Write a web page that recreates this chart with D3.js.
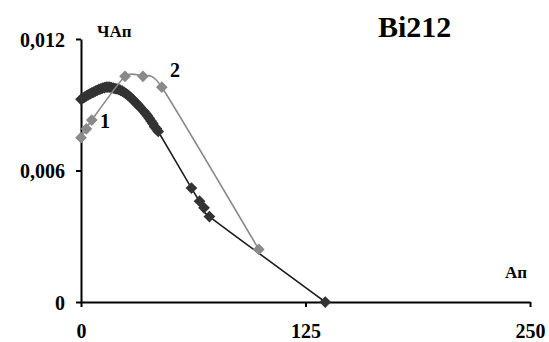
<!DOCTYPE html>
<html>
<head>
<meta charset="utf-8">
<script src="https://cdn.jsdelivr.net/npm/d3@7"></script>
<style>
  body { margin: 0; background: #fff; }
  svg text { font-family: 'Liberation Serif', 'Times New Roman', Times, 'DejaVu Serif', serif !important; font-weight: bold; }
</style>
</head>
<body>
<svg id="chart"></svg>
<script>
const svgWidth = 549, svgHeight = 342;

// series 1 (dark)
const s1x = [0,1,2,3,4,5,6,7,8,9,10,11,12,13,14,15,16,17,18,19,20,21,22,23,24,25,26,27,28,29,30,31,32,33,35,36,37,38,39,40,41,42,43,61.5,66,68.5,71.5,136];
const s1y = [0.00925,0.0093,0.00935,0.0094,0.00945,0.0095,0.00954,0.00958,0.00962,0.00966,0.0097,0.00973,0.00976,0.00978,0.0098,0.0098,0.0098,0.00978,0.00976,0.00974,0.00972,0.0097,0.00966,0.00962,0.00957,0.00951,0.00945,0.00938,0.0093,0.00922,0.00914,0.00905,0.00897,0.00888,0.0087,0.0086,0.0085,0.00838,0.00826,0.00814,0.008,0.0079,0.00778,0.0052,0.0046,0.0043,0.0039,0];

// series 2 (gray)
const s2x = [0,3,6,24.5,34.5,45,99];
const s2y = [0.0075,0.0079,0.0083,0.0103,0.0103,0.0098,0.0024];

const xTicks = [0,125,250];
const xTickLabels = ["0","125","250"];
const yTicks = [0,0.006,0.012];
const yTickLabels = ["0","0,006","0,012"];

const svg = d3.select("#chart")
    .attr("width", svgWidth)
    .attr("height", svgHeight);

const x = d3.scaleLinear().domain([0,250]).range([81,530]);
const y = d3.scaleLinear().domain([0,0.012]).range([302,39]);

// axes
const xAxis = svg.append("g")
    .attr("transform", `translate(0,${y(0)})`)
    .call(d3.axisBottom(x).tickValues(xTicks).tickSize(5).tickSizeOuter(0)
        .tickFormat((d,i) => xTickLabels[i]));
const yAxis = svg.append("g")
    .attr("transform", `translate(${x(0)},0)`)
    .call(d3.axisLeft(y).tickValues(yTicks).tickSize(5).tickSizeOuter(0)
        .tickFormat((d,i) => yTickLabels[i]));

[xAxis, yAxis].forEach(g => {
  g.attr("font-family", null).attr("font-size", null);
  g.select(".domain").attr("stroke","#000").attr("stroke-width",2);
  g.selectAll(".tick line").attr("stroke","#000").attr("stroke-width",2);
  g.selectAll("text").attr("fill","#000").style("font-size","20px");
});
xAxis.selectAll("text").attr("dy", null).attr("y", 36);
yAxis.selectAll("text").attr("x", -16).attr("dy", "0.35em");

const line = d3.line()
    .x(d => x(d[0]))
    .y(d => y(d[1]))
    .curve(d3.curveCardinal.tension(0.4));

const diamond = d3.symbol().type(d3.symbolDiamond2).size(88);

const data1 = s1x.map((v,i) => [v, s1y[i]]);
const data2 = s2x.map((v,i) => [v, s2y[i]]);

// dark series
svg.append("path")
    .datum(data1)
    .attr("d", line)
    .attr("fill","none")
    .attr("stroke","#1e1e1e")
    .attr("stroke-width",1.6);
svg.selectAll(".m1")
    .data(data1)
    .enter()
    .append("path")
    .attr("class","m1")
    .attr("d", diamond)
    .attr("transform", d => `translate(${x(d[0])},${y(d[1])})`)
    .attr("fill","#333");

// gray series
svg.append("path")
    .datum(data2)
    .attr("d", line)
    .attr("fill","none")
    .attr("stroke","#8a8a8a")
    .attr("stroke-width",1.6);
svg.selectAll(".m2")
    .data(data2)
    .enter()
    .append("path")
    .attr("class","m2")
    .attr("d", diamond)
    .attr("transform", d => `translate(${x(d[0])},${y(d[1])})`)
    .attr("fill","#8a8a8a");

// labels
svg.append("text").text("Bi212").attr("x",378).attr("y",37).style("font-size","30px");
svg.append("text").text("ЧАп").attr("x",97).attr("y",37).style("font-size","17px");
svg.append("text").text("Ап").attr("x",505).attr("y",278).style("font-size","17px");
svg.append("text").text("1").attr("x",100).attr("y",128).style("font-size","20px");
svg.append("text").text("2").attr("x",170).attr("y",77).style("font-size","20px");
</script>
</body>
</html>
